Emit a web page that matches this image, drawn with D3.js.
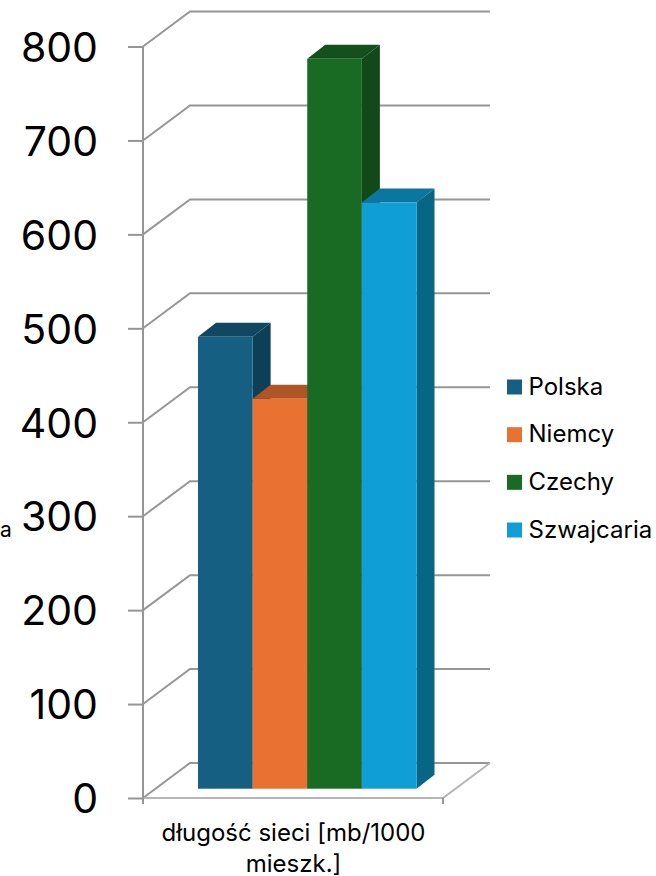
<!DOCTYPE html>
<html><head><meta charset="utf-8">
<script src="https://cdn.jsdelivr.net/npm/d3@7/dist/d3.min.js"></script>
<style>html,body{margin:0;padding:0;background:#fff}svg{display:block}text{font-family:Inter,"Noto Sans",sans-serif;fill:#000}</style>
</head><body><svg id="c" width="656" height="876"></svg>
<script>
const seriesNames = ["Polska","Niemcy","Czechy","Szwajcaria"];
const seriesValues = [481,415,777,624];
const tickValues = [0,100,200,300,400,500,600,700,800];
const categoryLabel = ["długość sieci [mb/1000","mieszk.]"];
const frontColors = ["#156082","#E97132","#196B24","#0F9ED5"];
const topColors = ["#104862","#B05526","#13501B","#0B76A0"];
const sideColors = ["#0D3F56","#B05526","#114A18","#066684"];

const svg = d3.select("#c");
const y = d3.scaleLinear().domain([0,800]).range([798,46.5]);
const wallX = 47, wallY = -35, depthX = 18, depthY = -14, baseDrop = 9.3;
const x = d3.scaleBand().domain(seriesNames).range([198,416.5]);
const gridC = "#969696";

const grid = svg.append("g").attr("fill","none").attr("stroke",gridC).attr("stroke-width",2);
const lineGen = d3.line();
tickValues.forEach(t=>{
  grid.append("path").attr("d",lineGen([[143,y(t)],[143+wallX,y(t)+wallY],[443+wallX,y(t)+wallY]]));
});
grid.append("path").attr("d",lineGen([[143,y(0)],[443,y(0)],[443+wallX,y(0)+wallY]])).attr("stroke","#b5b5b5");

const axisL = d3.axisLeft(y).tickValues(tickValues).tickSize(15).tickPadding(30).tickFormat(d3.format("d"));
const gy = svg.append("g").attr("transform","translate(143,0)").call(axisL);
gy.select(".domain").attr("stroke",gridC).attr("stroke-width",2).attr("d",`M0,${y(800)}V804`);
gy.selectAll(".tick line").attr("stroke",gridC).attr("stroke-width",2);
gy.selectAll(".tick text").attr("font-size",41).attr("dy","0.36em").attr("font-weight",400).style("font-family","Inter");

grid.append("path").attr("d",lineGen([[443,y(0)],[443,804]])).attr("stroke",gridC);

const bars = svg.append("g");
seriesNames.forEach((s,i)=>{
  const v = seriesValues[i], x0 = x(s), w = x.bandwidth(), yb = y(0)-baseDrop, yt = y(v)-baseDrop;
  const g = bars.append("g");
  g.append("path").attr("fill",sideColors[i]).attr("d",lineGen([[x0+w,yb],[x0+w+depthX,yb+depthY],[x0+w+depthX,yt+depthY],[x0+w,yt]])+"Z");
  g.append("path").attr("fill",topColors[i]).attr("d",lineGen([[x0,yt],[x0+depthX,yt+depthY],[x0+w+depthX,yt+depthY],[x0+w,yt]])+"Z");
  g.append("rect").attr("x",x0).attr("y",yt).attr("width",w).attr("height",yb-yt).attr("fill",frontColors[i]);
});

svg.append("text").attr("x",0).attr("y",537).attr("font-size",21).text("a");

const lab = svg.append("text").attr("text-anchor","middle").attr("font-size",24);
categoryLabel.forEach((t,i)=>lab.append("tspan").attr("x",293.5).attr("y",841+i*31).text(t));

const legendY = d3.scalePoint().domain(seriesNames).range([387,530]);
const leg = svg.append("g");
seriesNames.forEach((s,i)=>{
  leg.append("rect").attr("x",507).attr("y",legendY(s)-7.5).attr("width",15).attr("height",15).attr("fill",frontColors[i]);
  leg.append("text").attr("x",528.5).attr("y",legendY(s)+7.5).attr("font-size",24).text(s);
});
</script></body></html>
